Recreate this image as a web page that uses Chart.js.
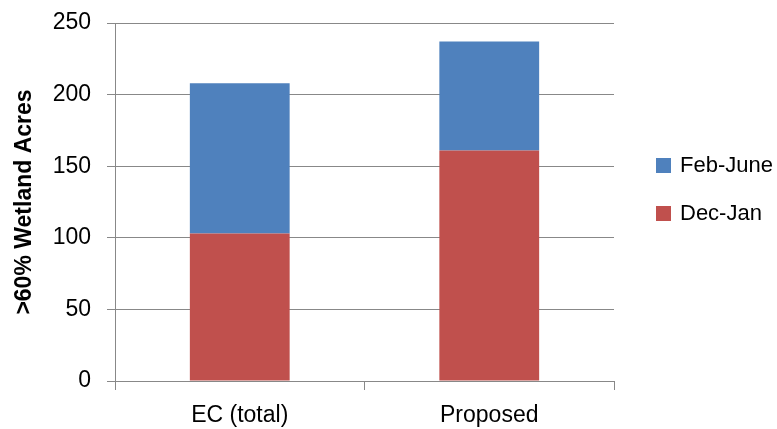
<!DOCTYPE html>
<html>
<head>
<meta charset="utf-8">
<script src="https://cdn.jsdelivr.net/npm/chart.js@4/dist/chart.umd.min.js"></script>
<style>
  html, body { margin: 0; padding: 0; background: #ffffff; }
  #wrap { width: 777px; height: 429px; }
</style>
</head>
<body>
<div id="wrap"><canvas id="c" width="777" height="429"></canvas></div>
<script>
// Wetland acreage (>60%) by season, stacked per scenario
const categories = ['EC (total)', 'Proposed'];
const decJan = [103, 161];
const febJune = [105, 76];
const yTickValues = [0, 50, 100, 150, 200, 250];

const FONT = 'Liberation Sans';
const GRID = '#888888';
const BLUE = '#4F81BD';
const RED = '#C0504D';

// Legend drawn to the right of the plot, top entry first
const sideLegend = {
  id: 'sideLegend',
  afterDraw(chart) {
    const ctx = chart.ctx;
    const items = chart.data.datasets.slice().reverse();
    const x = chart.chartArea.right + 42;
    const y0 = 165;
    const step = 48;
    ctx.save();
    ctx.font = '22px "' + FONT + '"';
    ctx.textBaseline = 'middle';
    ctx.textAlign = 'left';
    items.forEach((ds, i) => {
      const cy = y0 + i * step;
      ctx.fillStyle = ds.backgroundColor;
      ctx.fillRect(x, cy - 7, 15, 15);
      ctx.fillStyle = '#000000';
      ctx.fillText(ds.label, x + 24, cy + 1);
    });
    ctx.restore();
  }
};

new Chart(document.getElementById('c'), {
  type: 'bar',
  data: {
    labels: categories,
    datasets: [
      { label: 'Dec-Jan', data: decJan, backgroundColor: RED, borderWidth: 0 },
      { label: 'Feb-June', data: febJune, backgroundColor: BLUE, borderWidth: 0 }
    ]
  },
  options: {
    responsive: false,
    animation: false,
    devicePixelRatio: 1,
    layout: { padding: { top: 23, right: 163, bottom: 0, left: 0 } },
    plugins: {
      legend: { display: false },
      tooltip: { enabled: false }
    },
    datasets: { bar: { categoryPercentage: 1.0, barPercentage: 0.4 } },
    scales: {
      x: {
        stacked: true,
        offset: true,
        grid: {
          display: true,
          offset: true,
          drawOnChartArea: false,
          drawTicks: true,
          tickLength: 9,
          color: GRID,
          lineWidth: 1
        },
        border: { display: true, color: GRID, width: 1 },
        ticks: {
          color: '#000000',
          font: { family: FONT, size: 23 },
          padding: 12,
          maxRotation: 0
        },
        afterFit(scale) {
          scale.height = 48;
          scale.paddingLeft = 0;
          scale.paddingRight = 0;
        }
      },
      y: {
        stacked: true,
        min: 0,
        max: 250,
        afterBuildTicks(scale) {
          scale.ticks = yTickValues.map(v => ({ value: v }));
        },
        grid: {
          color: GRID,
          lineWidth: 1,
          drawTicks: true,
          tickLength: 8
        },
        border: { display: true, color: GRID, width: 1 },
        ticks: {
          color: '#000000',
          font: { family: FONT, size: 23 },
          padding: 16
        },
        title: {
          display: true,
          text: '>60% Wetland Acres',
          color: '#000000',
          font: { family: FONT, size: 23, weight: 'bold' },
          padding: { top: 11, bottom: 0 }
        },
        afterFit(scale) {
          scale.width = 115;
          scale.paddingTop = 0;
          scale.paddingBottom = 0;
        }
      }
    }
  },
  plugins: [sideLegend]
});
</script>
</body>
</html>
